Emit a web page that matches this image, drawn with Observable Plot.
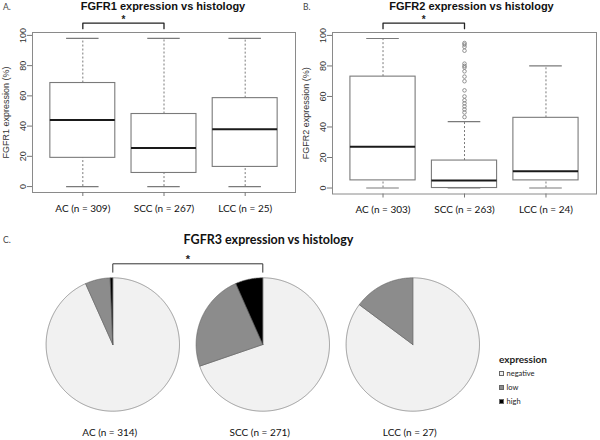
<!DOCTYPE html>
<html><head><meta charset="utf-8">
<script src="https://cdn.jsdelivr.net/npm/d3@7"></script>
<script src="https://cdn.jsdelivr.net/npm/@observablehq/plot@0.6"></script>
<style>
body{margin:0;background:#fff;}
#root{position:relative;width:600px;height:440px;overflow:hidden;background:#fff;}
.panel{position:absolute;}
.tag{position:absolute;font:8.5px Lato, sans-serif;color:#444;line-height:1;}
.legend{position:absolute;font-family:Lato, sans-serif;color:#222;}
.legend .lt{font-weight:bold;font-size:10px;line-height:1;margin-bottom:6px;}
.legend .li{font-size:7.5px;line-height:1;height:14px;display:flex;align-items:flex-start;}
.legend .sw{display:inline-block;width:5px;height:5px;border:0.6px solid #666;margin-right:2.5px;margin-top:1px;box-sizing:border-box;}
</style></head><body><div id="root"></div>
<script>
// ---------- data ----------
const yTicks = [0, 20, 40, 60, 80, 100];

const fgfr1Groups = ["AC (n = 309)", "SCC (n = 267)", "LCC (n = 25)"];
const fgfr1WhiskerLow = [0, 0, 0];
const fgfr1Q1 = [19, 9, 13];
const fgfr1Median = [44, 25.5, 38];
const fgfr1Q3 = [68.5, 48, 58.5];
const fgfr1WhiskerHigh = [98, 98, 98];
const fgfr1OutlierGroup = [];
const fgfr1Outliers = [];

const fgfr2Groups = ["AC (n = 303)", "SCC (n = 263)", "LCC (n = 24)"];
const fgfr2WhiskerLow = [0, 0, 0];
const fgfr2Q1 = [5, 0, 5];
const fgfr2Median = [27, 5, 11];
const fgfr2Q3 = [73, 18, 46];
const fgfr2WhiskerHigh = [98, 43.5, 80];
const fgfr2OutlierGroup = ["SCC (n = 263)"];
const fgfr2Outliers = [95, 94, 92.5, 90, 81.5, 80, 79, 76.5, 73, 70, 64, 60, 57.5, 55.5, 53.5, 51.5, 49.5, 46.5];

const fgfr3Groups = ["AC (n = 314)", "SCC (n = 271)", "LCC (n = 27)"];
const expressionLevels = ["negative", "low", "high"];
const expressionColors = ["#f1f1f1", "#8c8c8c", "#000000"];
const fgfr3Negative = [293, 189, 23];
const fgfr3Low = [19, 64, 4];
const fgfr3High = [2, 18, 0];

const significantPair = [0, 1]; // AC vs SCC, p < 0.05

// ---------- helpers ----------
const root = document.getElementById("root");
function place(node, left, top) {
  const d = document.createElement("div");
  d.className = "panel";
  d.style.left = left + "px"; d.style.top = top + "px";
  d.appendChild(node); root.appendChild(d);
}
function tag(txt, left, top) {
  const d = document.createElement("div");
  d.className = "tag"; d.textContent = txt;
  d.style.left = left + "px"; d.style.top = top + "px";
  root.appendChild(d);
}

function boxPanel({groups, wLow, q1, median, q3, wHigh, outGroup, outliers, title, yLabel, marginRight, marginBottom, titleDx}) {
  const rows = groups.map((g, i) => ({pos: i + 1, group: g, wLow: wLow[i], q1: q1[i], median: median[i], q3: q3[i], wHigh: wHigh[i]}));
  const outs = outliers.map(v => ({pos: groups.indexOf(outGroup[0]) + 1, value: v}));
  const all = [...wLow, ...wHigh, ...outliers];
  const lo = d3.min(all), hi = d3.max(all);
  const pad = (hi - lo) * 0.04;
  const yDom = [lo - pad, hi + pad];
  const n = groups.length;
  const xPad = n * 0.04;
  const top = yDom[1];
  const [a, b] = significantPair.map(i => i + 1);
  const bracket = [{pos: a, v: top + 2.5}, {pos: a, v: top + 6.2}, {pos: b, v: top + 6.2}, {pos: b, v: top + 2.5}];
  const lineGray = "#7a7a7a";
  return Plot.plot({
    width: 300, height: 230,
    marginLeft: 32, marginRight, marginTop: 32, marginBottom,
    x: {domain: [0.5 - xPad, n + 0.5 + xPad], label: null, axis: null},
    y: {domain: yDom, label: null, axis: null},
    style: {background: "transparent", overflow: "visible"},
    marks: [
      Plot.ruleX(rows, {x: "pos", y1: "q3", y2: "wHigh", stroke: lineGray, strokeDasharray: "2,2", strokeWidth: 1}),
      Plot.ruleX(rows, {x: "pos", y1: "wLow", y2: "q1", stroke: lineGray, strokeDasharray: "2,2", strokeWidth: 1}),
      Plot.ruleY(rows, {y: "wHigh", x1: d => d.pos - 0.2, x2: d => d.pos + 0.2, stroke: lineGray, strokeWidth: 1.2}),
      Plot.ruleY(rows, {y: "wLow", x1: d => d.pos - 0.2, x2: d => d.pos + 0.2, stroke: lineGray, strokeWidth: 1.2}),
      Plot.rect(rows, {x1: d => d.pos - 0.4, x2: d => d.pos + 0.4, y1: "q1", y2: "q3", fill: "white", stroke: lineGray, strokeWidth: 1.1}),
      Plot.ruleY(rows, {y: "median", x1: d => d.pos - 0.4, x2: d => d.pos + 0.4, stroke: "#1a1a1a", strokeWidth: 2}),
      Plot.dot(outs, {x: "pos", y: "value", r: 1.8, stroke: "#7a7a7a", strokeWidth: 0.8, fill: "none"}),
      Plot.frame({stroke: "#8a8a8a", strokeWidth: 1}),
      Plot.axisY({ticks: yTicks, tickSize: 5, tickFormat: () => "", stroke: "#777", label: null}),
      Plot.text(yTicks, {y: d => d, frameAnchor: "left", dx: -9.5, rotate: -90, textAnchor: "middle", lineAnchor: "middle", fontSize: 9, fontFamily: "Liberation Sans", fill: "#333"}),
      Plot.axisX({ticks: rows.map(d => d.pos), tickFormat: p => groups[p - 1], tickSize: 4, tickPadding: 8, stroke: "#777", fill: "#111", fontSize: 10, fontFamily: "Lato", label: null}),
      Plot.text([yLabel], {frameAnchor: "left", dx: -26, rotate: -90, textAnchor: "middle", lineAnchor: "middle", fontSize: 9, fontFamily: "Liberation Sans", fill: "#333"}),
      Plot.text([title], {frameAnchor: "top", dx: titleDx, dy: -25.8, lineAnchor: "middle", fontSize: 11, fontWeight: "bold", fontFamily: "Liberation Sans", fill: "#111"}),
      Plot.line(bracket, {x: "pos", y: "v", stroke: "#222", strokeWidth: 1.3, curve: "linear"}),
      Plot.text(["*"], {x: [(a + b) / 2], y: [top + 8.6], lineAnchor: "middle", fontSize: 10, fontWeight: "bold", fontFamily: "Liberation Sans", fill: "#222"})
    ]
  });
}

// ---------- panel A ----------
place(boxPanel({
  groups: fgfr1Groups, wLow: fgfr1WhiskerLow, q1: fgfr1Q1, median: fgfr1Median, q3: fgfr1Q3, wHigh: fgfr1WhiskerHigh,
  outGroup: fgfr1OutlierGroup, outliers: fgfr1Outliers,
  title: "FGFR1 expression vs histology", yLabel: "FGFR1 expression (%)",
  marginRight: 5, marginBottom: 38, titleDx: -1
}), 0, 0);

// ---------- panel B ----------
place(boxPanel({
  groups: fgfr2Groups, wLow: fgfr2WhiskerLow, q1: fgfr2Q1, median: fgfr2Median, q3: fgfr2Q3, wHigh: fgfr2WhiskerHigh,
  outGroup: fgfr2OutlierGroup, outliers: fgfr2Outliers,
  title: "FGFR2 expression vs histology", yLabel: "FGFR2 expression (%)",
  marginRight: 4, marginBottom: 36.5, titleDx: 7
}), 300, 0);

// ---------- panel C (pies) ----------
const pxPerUnit = 150;        // pie spacing in px
const firstCenter = 112.3;    // px from left
const centerY = 114;          // px from top of panel
const panelH = 210;
const R = 66.7 / pxPerUnit;   // pie radius in units
const counts = [fgfr3Negative, fgfr3Low, fgfr3High];
const slicePts = [];
fgfr3Groups.forEach((g, i) => {
  const total = d3.sum(counts, c => c[i]);
  let start = 0;
  expressionLevels.forEach((lvl, j) => {
    const v = counts[j][i];
    if (!v) return;
    const a0 = start / total * 2 * Math.PI, a1 = (start + v) / total * 2 * Math.PI;
    start += v;
    const key = g + "|" + lvl;
    slicePts.push({key, level: lvl, px: i, py: 0});
    const steps = Math.max(2, Math.ceil((a1 - a0) / (Math.PI / 360)));
    for (let k = 0; k <= steps; k++) {
      const ang = a0 + (a1 - a0) * k / steps;
      slicePts.push({key, level: lvl, px: i + R * Math.sin(ang), py: R * Math.cos(ang)});
    }
    slicePts.push({key, level: lvl, px: i, py: 0});
  });
});
const [sa, sb] = significantPair;
const bracketC = [{px: sa, py: 0.482}, {px: sa, py: 0.538}, {px: sb, py: 0.538}, {px: sb, py: 0.482}];

const pieChart = Plot.plot({
  width: 600, height: panelH, margin: 0,
  x: {domain: [-firstCenter / pxPerUnit, (600 - firstCenter) / pxPerUnit], axis: null, label: null},
  y: {domain: [-(panelH - centerY) / pxPerUnit, centerY / pxPerUnit], axis: null, label: null},
  color: {domain: expressionLevels, range: expressionColors},
  style: {background: "transparent", overflow: "visible"},
  marks: [
    Plot.line(slicePts, {x: "px", y: "py", z: "key", fill: "level", stroke: "#606060", strokeWidth: 0.6, curve: "linear", strokeLinejoin: "miter"}),
    Plot.line(bracketC, {x: "px", y: "py", stroke: "#333", strokeWidth: 1, curve: "linear"}),
    Plot.text(["*"], {x: [(sa + sb) / 2], y: [0.565], lineAnchor: "middle", fontSize: 11, fontWeight: "bold", fontFamily: "Liberation Sans", fill: "#222"}),
    Plot.text(fgfr3Groups, {x: (d, i) => i, text: d => d, frameAnchor: "bottom", dx: -3, dy: -8, lineAnchor: "middle", fontSize: 10, fontFamily: "Lato", fill: "#111"}),
    Plot.text(["FGFR3 expression vs histology"], {frameAnchor: "top-left", dx: 268, dy: 9, textAnchor: "middle", lineAnchor: "middle", fontSize: 12.5, fontWeight: "bold", fontFamily: "Lato", fill: "#111"})
  ]
});
place(pieChart, 0, 230);

// legend
const lg = document.createElement("div");
lg.className = "legend";
lg.style.left = "499px"; lg.style.top = "354px";
const lt = document.createElement("div"); lt.className = "lt"; lt.textContent = "expression"; lg.appendChild(lt);
expressionLevels.forEach((lvl, i) => {
  const it = document.createElement("div"); it.className = "li";
  const sw = document.createElement("span"); sw.className = "sw"; sw.style.background = expressionColors[i];
  it.appendChild(sw); it.appendChild(document.createTextNode(lvl));
  lg.appendChild(it);
});
root.appendChild(lg);

tag("A.", 3, 3);
tag("B.", 303, 3);
tag("C.", 3, 236);
</script></body></html>
